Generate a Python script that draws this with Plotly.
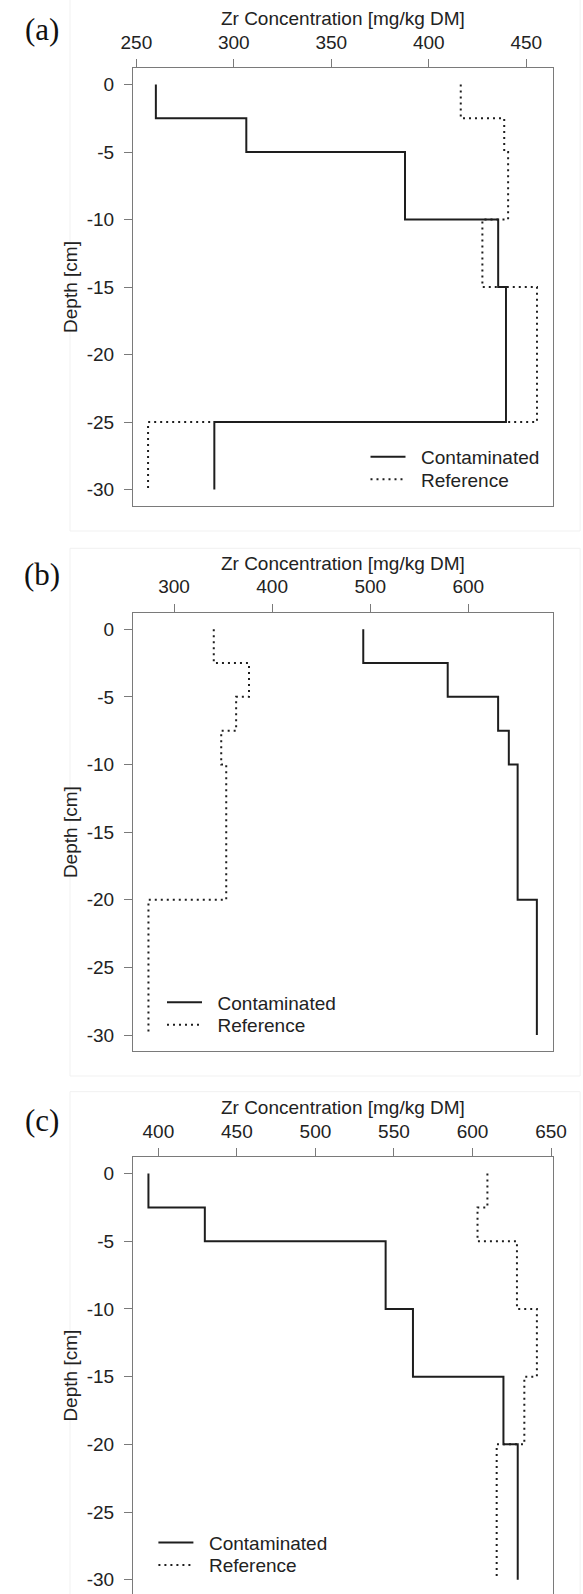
import plotly.graph_objects as go

# ---------------- data ----------------
depth_a = [0, -2.5, -5, -10, -15, -25, -30]
contaminated_a = [260, 306.4, 387.8, 435.6, 439.6, 290]
reference_a = [416.4, 438.7, 440.7, 427.5, 455.5, 256]
xticks_a = [250, 300, 350, 400, 450]

depth_b = [0, -2.5, -5, -7.5, -10, -20, -30]
contaminated_b = [492.9, 579, 630.4, 641.3, 650.3, 669.9]
reference_b = [340.5, 376.4, 363.3, 348.1, 353.2, 273.9]
xticks_b = [300, 400, 500, 600]

depth_c = [0, -2.5, -5, -10, -15, -20, -30]
contaminated_c = [393.7, 429.6, 544.7, 562.1, 619.7, 628.8]
reference_c = [609.5, 603.2, 628.3, 641, 633, 615.4]
xticks_c = [400, 450, 500, 550, 600, 650]

yticks = [0, -5, -10, -15, -20, -25, -30]
ytick_labels = ["0", "-5", "-10", "-15", "-20", "-25", "-30"]
panel_labels = ["(a)", "(b)", "(c)"]
series_names = ["Contaminated", "Reference"]
x_title = "Zr Concentration [mg/kg DM]"
y_title = "Depth [cm]"

# ---------------- layout helpers ----------------
W, H = 583, 1594
FONT = "Liberation Sans, Arial, sans-serif"
FS = 19
TXT = "#222222"
FRAME = "#7a7a7a"
NBSP = "\u00a0"


def px_x(p):
    return p / W


def px_y(p):
    return 1 - p / H


panels = [
    dict(depth=depth_a, con=contaminated_a, ref=reference_a, ticks=xticks_a,
         xr=[248.3, 463.6], yr=[-31.2, 1.2], top=68.3, bottom=505.7,
         leg=(370, 456.9, 479.3), lab_y=30, mirror=True),
    dict(depth=depth_b, con=contaminated_b, ref=reference_b, ticks=xticks_b,
         xr=[258.2, 686.1], yr=[-31.2, 1.2], top=613.0, bottom=1051.3,
         leg=(157, 1002.4, 1025.0), lab_y=575, mirror=True),
    dict(depth=depth_c, con=contaminated_c, ref=reference_c, ticks=xticks_c,
         xr=[383.9, 651.1], yr=[-31.05, 1.2], top=1157.3, bottom=1594.0,
         leg=(148, 1542.7, 1565.1), lab_y=1120, mirror=False),
]

LEFT, RIGHT = 126.7, 566.0

fig = go.Figure()
layout = dict(
    width=W, height=H,
    margin=dict(l=0, r=0, t=0, b=0),
    paper_bgcolor="white", plot_bgcolor="white",
    font=dict(family=FONT, size=FS, color=TXT),
    annotations=[], shapes=[],
)

legend_idx = 1
for i, p in enumerate(panels):
    sfx = "" if i == 0 else str(i + 1)
    xa, ya = "x" + sfx, "y" + sfx
    for k, (vals, dash) in enumerate([(p["con"], "solid"), (p["ref"], "2px,4px")]):
        lg = "legend" if legend_idx == 1 else "legend%d" % legend_idx
        fig.add_trace(go.Scatter(
            x=list(vals) + [vals[-1]], y=p["depth"], mode="lines",
            line=dict(shape="vh", color="#1e1e1e", width=2, dash=dash),
            name=NBSP * 2 + series_names[k], xaxis=xa, yaxis=ya, legend=lg, showlegend=True,
        ))
        ly = p["leg"][1 + k]
        layout[lg] = dict(
            x=px_x(p["leg"][0]), y=px_y(ly), xanchor="left", yanchor="middle",
            bgcolor="rgba(0,0,0,0)", borderwidth=0, itemwidth=35,
            font=dict(family=FONT, size=FS, color=TXT),
        )
        legend_idx += 1

    layout["xaxis" + sfx] = dict(
        domain=[px_x(LEFT), px_x(RIGHT)], anchor=ya, side="top",
        range=p["xr"], tickvals=p["ticks"], ticks="outside", ticklen=8,
        tickwidth=1, tickcolor=FRAME, showline=True, linecolor=FRAME, linewidth=1.3,
        mirror=p["mirror"], showgrid=False, zeroline=False,
        tickfont=dict(family=FONT, size=FS, color=TXT), ticklabelstandoff=3,
        title=dict(text=x_title, font=dict(family=FONT, size=FS, color=TXT), standoff=0),
    )
    layout["yaxis" + sfx] = dict(
        domain=[px_y(p["bottom"]), px_y(p["top"])], anchor=xa,
        range=p["yr"], tickvals=yticks, ticktext=ytick_labels, ticks="outside", ticklen=8,
        tickwidth=1, tickcolor=FRAME, showline=True, linecolor=FRAME, linewidth=1.3,
        mirror=True, showgrid=False, zeroline=False,
        tickfont=dict(family=FONT, size=FS, color=TXT), ticklabelstandoff=6,
        title=dict(text=y_title, font=dict(family=FONT, size=FS, color=TXT), standoff=3),
    )
    layout["annotations"].append(dict(
        text=panel_labels[i], xref="paper", yref="paper",
        x=px_x(31), y=px_y(p["lab_y"]), xanchor="center", yanchor="middle",
        showarrow=False, font=dict(family="Liberation Serif, Times New Roman, serif", size=31, color="#111111"),
    ))

# faint image-panel borders seen in the reference
for (t, b) in [(-5, 531), (548.3, 1076), (1091.7, 1600)]:
    layout["shapes"].append(dict(
        type="rect", xref="paper", yref="paper",
        x0=px_x(60.7), x1=1.02, y0=px_y(b), y1=px_y(t),
        line=dict(color="#f1f1f1", width=1), fillcolor="rgba(0,0,0,0)", layer="below",
    ))

fig.update_layout(**layout)
fig.write_html(
    "out.html",
    config={"displayModeBar": False},
    post_script="document.body.style.margin='0';document.body.style.overflow='hidden';",
)
